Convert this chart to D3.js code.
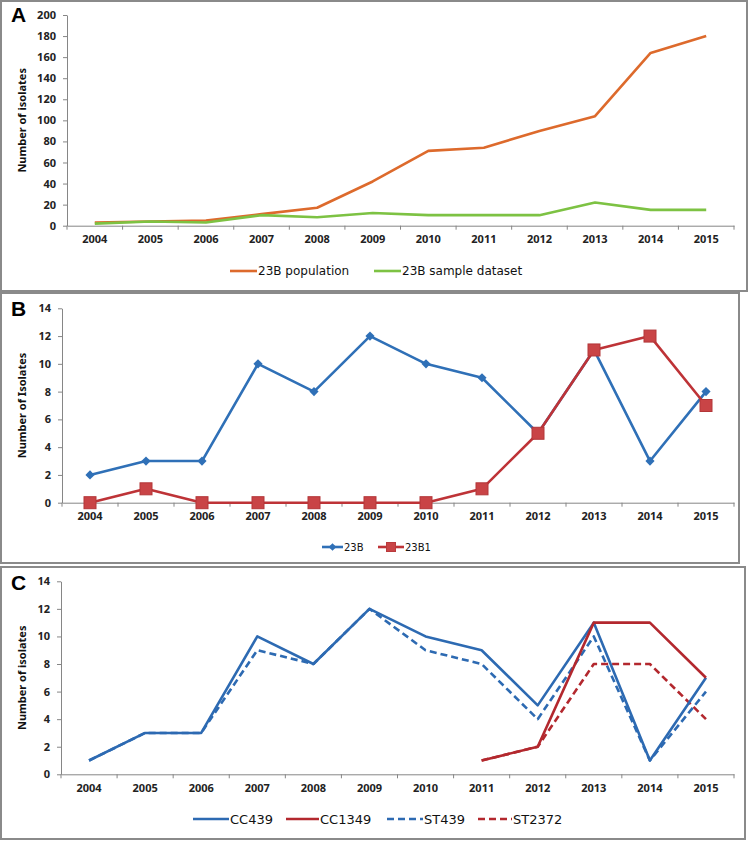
<!DOCTYPE html>
<html><head><meta charset="utf-8">
<script src="https://cdn.jsdelivr.net/npm/d3@7"></script>
<style>body{margin:0;background:#fff}svg{display:block}</style>
</head><body>
<svg id="c" width="750" height="841"></svg>
<script>
const years = ["2004","2005","2006","2007","2008","2009","2010","2011","2012","2013","2014","2015"];
const popA = [3,4,5,11,17,42,71,74,90,104,164,180];
const sampleA = [2,4,3,10,8,12,10,10,10,22,15,15];
const b23B = [2,3,3,10,8,12,10,9,5,11,3,8];
const b23B1 = [0,1,0,0,0,0,0,1,5,11,12,7];
const cc439 = [1,3,3,10,8,12,10,9,5,11,1,7];
const st439 = [1,3,3,9,8,12,9,8,4,10,1,6];
const cc1349 = [null,null,null,null,null,null,null,1,2,11,11,7];
const st2372 = [null,null,null,null,null,null,null,1,2,8,8,4];
const ticksA = [0,20,40,60,80,100,120,140,160,180,200];
const ticksBC = [0,2,4,6,8,10,12,14];

const svg = d3.select("#c");
const tickFont = "'Noto Sans', sans-serif";

function frame(x0,y0,x1,y1){
  svg.append("rect").attr("x",x0).attr("y",y0).attr("width",x1-x0).attr("height",y1-y0)
    .attr("fill","none").attr("stroke","#8a8a8a").attr("stroke-width",2);
}

function panel(o){
  frame(o.fx0,o.fy0,o.fx1,o.fy1);
  const x = d3.scaleBand().domain(years).range([o.x0,o.x1]);
  const y = d3.scaleLinear().domain([0,o.ymax]).range([o.yb,o.yt]);
  const g = svg.append("g");
  const xa = g.append("g").attr("transform",`translate(0,${o.yb})`)
    .call(d3.axisBottom(x).tickSize(0).tickPadding(10));
  xa.select(".domain").attr("stroke","#868686");
  xa.selectAll("text").attr("font-family",tickFont).attr("font-weight","bold").attr("font-size",11).attr("fill","#222");
  const bounds = years.map(d=>x(d)).concat([o.x1]);
  g.selectAll(".bt").data(bounds).enter().append("line")
    .attr("x1",d=>d).attr("x2",d=>d).attr("y1",o.yb).attr("y2",o.yb+4).attr("stroke","#868686");
  const ya = g.append("g").attr("transform",`translate(${o.x0},0)`)
    .call(d3.axisLeft(y).tickValues(o.ticks).tickSize(4).tickSizeOuter(0).tickPadding(7));
  ya.select(".domain").attr("stroke","#868686");
  ya.selectAll(".tick line").attr("stroke","#868686");
  ya.selectAll("text").attr("font-family",tickFont).attr("font-weight","bold").attr("font-size",11).attr("fill","#222");
  g.append("text").attr("transform",`translate(${o.titleX},${(o.yb+o.yt)/2}) rotate(-90)`)
    .attr("text-anchor","middle").attr("font-family",tickFont).attr("font-weight","bold")
    .attr("font-size",11).attr("fill","#111").text(o.title);
  svg.append("text").attr("x",o.labX).attr("y",o.labY).attr("font-family","'Liberation Sans', Arial, sans-serif")
    .attr("font-weight","bold").attr("font-size",21).attr("fill","#000").text(o.label);
  return {x,y,g};
}

function line(p, vals, color, dash, w){
  const gen = d3.line().defined(d=>d!=null).x((d,i)=>p.x(years[i])+p.x.bandwidth()/2).y(d=>p.y(d));
  p.g.append("path").datum(vals).attr("d",gen).attr("fill","none").attr("stroke",color)
    .attr("stroke-width",w||2.6).attr("stroke-dasharray",dash||null).attr("stroke-linejoin","round");
}

function legendItem(x,y,len,color,dash,text,size,marker){
  svg.append("line").attr("x1",x).attr("x2",x+len).attr("y1",y).attr("y2",y)
    .attr("stroke",color).attr("stroke-width",2.6).attr("stroke-dasharray",dash||null);
  if(marker==="diamond"){
    svg.append("path").attr("d",d3.symbol(d3.symbolSquare,30)()).attr("transform",`translate(${x+len/2},${y}) rotate(45)`).attr("fill",color);
  } else if(marker==="square"){
    svg.append("rect").attr("x",x+len/2-4.5).attr("y",y-4.5).attr("width",9).attr("height",9).attr("fill","#C94446").attr("stroke","#B93A3C");
  }
  svg.append("text").attr("x",x+len+1).attr("y",y+size*0.36).attr("font-family","'DejaVu Sans', sans-serif")
    .attr("font-size",size).attr("fill","#111").text(text);
}

// Panel A
const pA = panel({fx0:1,fy0:1,fx1:747,fy1:291,x0:67,x1:734,yb:225.7,yt:15,ymax:200,ticks:ticksA,
  title:"Number of isolates",titleX:26,label:"A",labX:11,labY:22});
line(pA, popA, "#DD6A2C");
line(pA, sampleA, "#7DC243");
legendItem(230,271,27,"#DD6A2C",null,"23B population",12);
legendItem(374,271,27,"#7DC243",null,"23B sample dataset",12);

// Panel B
const pB = panel({fx0:1,fy0:293,fx1:739,fy1:563,x0:62,x1:734,yb:502.7,yt:308.3,ymax:14,ticks:ticksBC,
  title:"Number of Isolates",titleX:26,label:"B",labX:11,labY:316});
line(pB, b23B, "#2F70B7");
line(pB, b23B1, "#BE3337");
pB.g.selectAll(".dm").data(b23B).enter().append("path")
  .attr("d",d3.symbol(d3.symbolSquare,42)())
  .attr("transform",(d,i)=>`translate(${pB.x(years[i])+pB.x.bandwidth()/2},${pB.y(d)}) rotate(45)`)
  .attr("fill","#2F70B7");
pB.g.selectAll(".sq").data(b23B1).enter().append("rect")
  .attr("x",(d,i)=>pB.x(years[i])+pB.x.bandwidth()/2-6).attr("y",d=>pB.y(d)-6)
  .attr("width",12).attr("height",12).attr("fill","#C94446").attr("stroke","#B33638").attr("stroke-width",1);
legendItem(322,547,21,"#2F70B7",null,"23B",10,"diamond");
legendItem(378,547,26,"#BE3337",null,"23B1",10,"square");

// Panel C
const pC = panel({fx0:1,fy0:567,fx1:745,fy1:839,x0:61,x1:734,yb:774.3,yt:581.3,ymax:14,ticks:ticksBC,
  title:"Number of isolates",titleX:26,label:"C",labX:11,labY:590});
line(pC, st439, "#2D6AB2", "7,4");
line(pC, st2372, "#B3282E", "7,4");
line(pC, cc439, "#2D6AB2");
line(pC, cc1349, "#B3282E");
legendItem(193,819,36,"#2D6AB2",null,"CC439",13);
legendItem(286,819,33,"#B3282E",null,"CC1349",13);
legendItem(387,819,36,"#2D6AB2","7,4","ST439",13);
legendItem(478,819,34,"#B3282E","7,4","ST2372",13);
</script>
</body></html>
